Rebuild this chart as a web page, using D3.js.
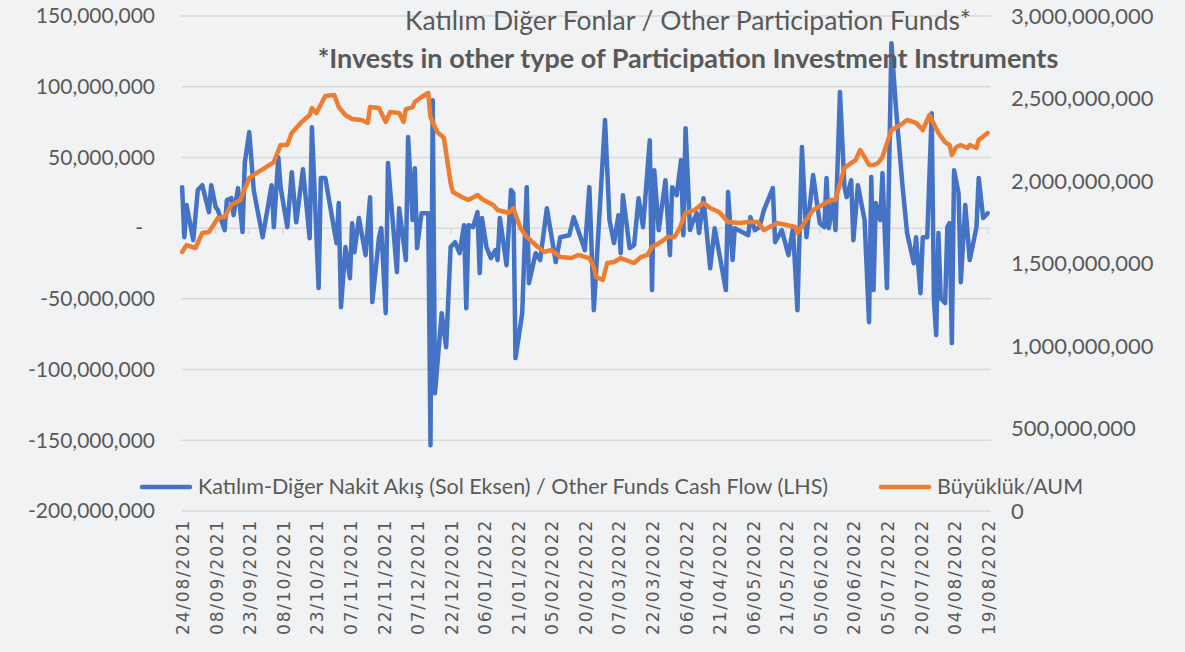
<!DOCTYPE html>
<html>
<head>
<meta charset="utf-8">
<script src="https://cdn.jsdelivr.net/npm/d3@7"></script>
<style>
  body { margin: 0; background: #f1f2f4; }
  svg { display: block; font-family: Lato, "Open Sans", sans-serif; }
</style>
</head>
<body>
<div class="container"></div>
<script>
// cash flow (left axis, TL)
const flowDates = [
  "2021-08-24","2021-08-25","2021-08-26","2021-08-29","2021-08-31","2021-09-02","2021-09-05","2021-09-06",
  "2021-09-08","2021-09-09","2021-09-12","2021-09-13","2021-09-15","2021-09-16","2021-09-18","2021-09-20",
  "2021-09-21","2021-09-23","2021-09-25","2021-09-26","2021-09-29","2021-10-03","2021-10-04","2021-10-06",
  "2021-10-07","2021-10-10","2021-10-12","2021-10-14","2021-10-17","2021-10-20","2021-10-21","2021-10-24",
  "2021-10-25","2021-10-27","2021-11-01","2021-11-02","2021-11-03","2021-11-05","2021-11-07","2021-11-08",
  "2021-11-09","2021-11-11","2021-11-14","2021-11-16","2021-11-17","2021-11-20","2021-11-21","2021-11-23",
  "2021-11-24","2021-11-28","2021-11-29","2021-12-02","2021-12-03","2021-12-05","2021-12-06","2021-12-07",
  "2021-12-09","2021-12-12","2021-12-13","2021-12-14","2021-12-15","2021-12-18","2021-12-20","2021-12-22",
  "2021-12-24","2021-12-26","2021-12-28","2021-12-29","2021-12-30","2022-01-01","2022-01-03","2022-01-04",
  "2022-01-05","2022-01-07","2022-01-09","2022-01-11","2022-01-12","2022-01-13","2022-01-16","2022-01-18",
  "2022-01-19","2022-01-20","2022-01-23","2022-01-25","2022-01-26","2022-01-29","2022-01-31","2022-02-03",
  "2022-02-07","2022-02-09","2022-02-13","2022-02-15","2022-02-20","2022-02-22","2022-02-24","2022-03-01",
  "2022-03-03","2022-03-05","2022-03-07","2022-03-08","2022-03-09","2022-03-12","2022-03-14","2022-03-16",
  "2022-03-18","2022-03-21","2022-03-22","2022-03-23","2022-03-25","2022-03-28","2022-03-30","2022-03-31",
  "2022-04-02","2022-04-04","2022-04-05","2022-04-06","2022-04-08","2022-04-09","2022-04-11","2022-04-12",
  "2022-04-14","2022-04-17","2022-04-19","2022-04-24","2022-04-25","2022-04-27","2022-04-28","2022-05-04",
  "2022-05-05","2022-05-07","2022-05-09","2022-05-11","2022-05-15","2022-05-16","2022-05-19","2022-05-22",
  "2022-05-24","2022-05-26","2022-05-28","2022-05-30","2022-06-02","2022-06-05","2022-06-07","2022-06-08",
  "2022-06-09","2022-06-11","2022-06-12","2022-06-14","2022-06-16","2022-06-17","2022-06-19","2022-06-20",
  "2022-06-22","2022-06-25","2022-06-27","2022-06-28","2022-06-29","2022-06-30","2022-07-02","2022-07-03",
  "2022-07-05","2022-07-07","2022-07-09","2022-07-12","2022-07-14","2022-07-17","2022-07-18","2022-07-20",
  "2022-07-21","2022-07-23","2022-07-25","2022-07-26","2022-07-27","2022-07-28","2022-07-29","2022-07-31",
  "2022-08-01","2022-08-02","2022-08-03","2022-08-04","2022-08-06","2022-08-07","2022-08-09","2022-08-11",
  "2022-08-14","2022-08-15","2022-08-17","2022-08-19"
]
// millions
const flowValues = [
  29.0,-6.4,16.3,-8.5,26.9,30.4,11.3,30.4,
  14.9,12.7,-1.4,19.8,21.2,9.2,28.3,-2.8,
  46.0,67.9,26.9,18.4,-6.4,30.4,0.7,50.2,
  29.0,0.7,39.6,4.2,41.7,-7.1,71.4,-42.4,
  35.4,35.4,-10.6,17.7,-55.9,-13.4,-35.4,3.5,
  -17.0,7.1,-19.1,21.9,-52.3,-6.4,0,-60.1,
  46.0,-31.1,14.1,-22.6,64.4,5.7,42.4,-14.1,
  10.6,10.6,-153.5,90.5,-116.7,-60.1,-84.2,-13.4,
  -9.9,-17.7,2.1,-56.6,2.1,0.7,11.3,-31.8,
  7.1,-13.4,-21.2,-15.6,-22.6,7.1,-26.2,26.9,
  24.8,-91.9,-60.1,29.0,-38.9,-17.7,-22.6,14.1,
  -24.0,-6.4,-5.0,7.8,-15.6,29.0,-58.0,76.4,
  5.7,-10.6,9.2,-17.7,23.3,-14.1,-12.0,21.2,
  0.7,62.2,-43.8,41.0,-1.4,33.9,-19.1,29.0,
  23.3,48.1,-5.0,70.7,-1.4,3.5,10.6,-3.5,
  21.2,-28.3,0,-43.8,25.5,-22.6,0,-5.0,
  7.8,-1.4,0.7,12.7,28.3,-9.9,-1.4,-19.1,
  0,-58.0,57.3,-6.4,37.5,3.5,0.7,35.4,
  0,19.8,-1.4,96.2,29.0,21.9,33.9,-8.5,
  30.4,5.7,-66.5,36.1,-43.8,17.7,5.7,38.9,
  -42.4,130.8,85.6,29.0,-3.5,-24.8,-6.4,-46.0,
  -6.4,-6.4,81.3,-50.9,-75.7,-3.5,-49.5,-53.0,
  0.7,3.5,-81.3,41.0,24.8,-38.2,16.3,-22.6,
  0.7,35.4,7.1,10.6
]

// fund size (right axis, TL)
const aumDates = [
  "2021-08-24","2021-08-26","2021-08-30","2021-09-02","2021-09-05","2021-09-09","2021-09-12","2021-09-15",
  "2021-09-19","2021-09-23","2021-09-27","2021-09-30","2021-10-04","2021-10-07","2021-10-10","2021-10-12",
  "2021-10-16","2021-10-20","2021-10-21","2021-10-23","2021-10-27","2021-10-31","2021-11-02","2021-11-05",
  "2021-11-08","2021-11-12","2021-11-15","2021-11-16","2021-11-20","2021-11-23","2021-11-25","2021-11-29",
  "2021-12-01","2021-12-02","2021-12-05","2021-12-06","2021-12-09","2021-12-12","2021-12-13","2021-12-16",
  "2021-12-19","2021-12-22","2021-12-23","2021-12-27","2021-12-30","2022-01-03","2022-01-05","2022-01-10",
  "2022-01-12","2022-01-17","2022-01-19","2022-01-22","2022-01-25","2022-01-30","2022-02-02","2022-02-05",
  "2022-02-09","2022-02-14","2022-02-17","2022-02-22","2022-02-24","2022-02-25","2022-02-28","2022-03-02",
  "2022-03-05","2022-03-08","2022-03-14","2022-03-17","2022-03-20","2022-03-22","2022-03-26","2022-03-29",
  "2022-04-01","2022-04-03","2022-04-06","2022-04-10","2022-04-14","2022-04-17","2022-04-21","2022-04-25",
  "2022-04-30","2022-05-04","2022-05-08","2022-05-11","2022-05-17","2022-05-21","2022-05-25","2022-05-26",
  "2022-05-29","2022-06-02","2022-06-06","2022-06-10","2022-06-12","2022-06-16","2022-06-19","2022-06-21",
  "2022-06-23","2022-06-25","2022-06-27","2022-06-29","2022-07-01","2022-07-03","2022-07-07","2022-07-11",
  "2022-07-14","2022-07-18","2022-07-21","2022-07-24","2022-07-28","2022-07-31","2022-08-02","2022-08-03",
  "2022-08-05","2022-08-07","2022-08-10","2022-08-11","2022-08-14","2022-08-15","2022-08-19"
]
// billions
const aumValues = [
  1.570,1.612,1.594,1.685,1.691,1.776,1.782,1.855,
  1.885,2.018,2.055,2.079,2.115,2.218,2.218,2.291,
  2.352,2.400,2.442,2.412,2.515,2.521,2.448,2.400,
  2.376,2.370,2.352,2.448,2.442,2.358,2.418,2.412,
  2.358,2.436,2.448,2.479,2.509,2.533,2.388,2.297,
  2.261,1.988,1.933,1.903,1.885,1.915,1.891,1.855,
  1.824,1.806,1.836,1.721,1.661,1.600,1.570,1.582,
  1.539,1.533,1.552,1.533,1.479,1.418,1.400,1.503,
  1.509,1.533,1.503,1.539,1.552,1.600,1.630,1.661,
  1.661,1.703,1.806,1.824,1.867,1.836,1.812,1.752,
  1.745,1.752,1.752,1.703,1.745,1.733,1.721,1.685,
  1.745,1.824,1.855,1.885,1.885,2.079,2.109,2.127,
  2.188,2.145,2.097,2.097,2.109,2.145,2.309,2.339,
  2.370,2.352,2.309,2.400,2.291,2.236,2.218,2.158,
  2.206,2.218,2.200,2.218,2.200,2.248,2.291
]

const leftTicks = [150e6, 100e6, 50e6, 0, -50e6, -100e6, -150e6, -200e6]
const rightTicks = [3e9, 2.5e9, 2e9, 1.5e9, 1e9, 0.5e9, 0]
const xTickLabels = [
  "24/08/2021","08/09/2021","23/09/2021","08/10/2021","23/10/2021","07/11/2021","22/11/2021",
  "07/12/2021","22/12/2021","06/01/2022","21/01/2022","05/02/2022","20/02/2022","07/03/2022",
  "22/03/2022","06/04/2022","21/04/2022","06/05/2022","21/05/2022","05/06/2022","20/06/2022",
  "05/07/2022","20/07/2022","04/08/2022","19/08/2022"
]

const title = "Katılım Diğer Fonlar / Other Participation Funds*"
const subtitle = "*Invests in other type of Participation Investment Instruments"
const seriesNames = ["Katılım-Diğer Nakit Akış (Sol Eksen) / Other Funds Cash Flow (LHS)", "Büyüklük/AUM"]

const w = 1185
const h = 652
const plotLeft = 181
const plotRight = 991
const plotTop = 16
const plotBottom = 511
const blue = "#4472C4"
const orange = "#ED7D31"
const textColor = "#595959"
const gridColor = "#d9d9d9"

const parse = d3.timeParse("%Y-%m-%d")
const parseLabel = d3.timeParse("%d/%m/%Y")

const flow = flowDates.map((d, i) => ({date: parse(d), value: flowValues[i] * 1e6}))
const aum = aumDates.map((d, i) => ({date: parse(d), value: aumValues[i] * 1e9}))

const svg = d3.select(".container")
              .append("svg")
              .attr("width", w)
              .attr("height", h)

const xScale = d3.scaleTime()
                 .domain([new Date(2021, 7, 23, 12), new Date(2022, 7, 20, 12)])
                 .range([plotLeft, plotRight])
const yLeft = d3.scaleLinear().domain([-200e6, 150e6]).range([plotBottom, plotTop])
const yRight = d3.scaleLinear().domain([0, 3e9]).range([plotBottom, plotTop])

// gridlines
svg.append("g")
   .selectAll("line")
   .data(leftTicks)
   .enter()
   .append("line")
   .attr("x1", plotLeft)
   .attr("x2", plotRight)
   .attr("y1", d => yLeft(d))
   .attr("y2", d => yLeft(d))
   .attr("stroke", gridColor)
   .attr("stroke-width", 1.5)

// small category ticks on the zero line
svg.append("g")
   .selectAll("line")
   .data(xTickLabels)
   .enter()
   .append("line")
   .attr("x1", d => xScale(parseLabel(d)))
   .attr("x2", d => xScale(parseLabel(d)))
   .attr("y1", yLeft(0))
   .attr("y2", yLeft(0) + 6)
   .attr("stroke", gridColor)
   .attr("stroke-width", 1.5)

// hyphen instead of unicode minus, like Excel
const fmt = (d) => d3.format(",")(d).replace("\u2212", "-")

svg.append("g")
   .selectAll("text")
   .data(leftTicks)
   .enter()
   .append("text")
   .attr("x", d => d === 0 ? 143 : 155)
   .attr("y", d => yLeft(d))
   .attr("dy", "0.35em")
   .attr("text-anchor", "end")
   .attr("fill", textColor)
   .style("font-size", "21px")
   .text(d => d === 0 ? "-" : fmt(d))

svg.append("g")
   .selectAll("text")
   .data(rightTicks)
   .enter()
   .append("text")
   .attr("x", 1011)
   .attr("y", d => yRight(d))
   .attr("dy", "0.35em")
   .attr("fill", textColor)
   .style("font-size", "22px")
   .text(d => fmt(d))

svg.append("g")
   .selectAll("text")
   .data(xTickLabels)
   .enter()
   .append("text")
   .attr("transform", d => "translate(" + (xScale(parseLabel(d)) + 7) + ",519) rotate(-90)")
   .attr("text-anchor", "end")
   .attr("fill", textColor)
   .style("font-family", "'DejaVu Sans'")
   .style("font-size", "17px")
   .style("letter-spacing", "1.8px")
   .text(d => d)

// lines
const line = (yScale) => d3.line()
                           .x(d => xScale(d.date))
                           .y(d => yScale(d.value))

svg.append("path")
   .datum(flow)
   .attr("d", line(yLeft))
   .attr("fill", "none")
   .attr("stroke", blue)
   .attr("stroke-width", 4.5)
   .attr("stroke-linejoin", "round")
   .attr("stroke-linecap", "round")

svg.append("path")
   .datum(aum)
   .attr("d", line(yRight))
   .attr("fill", "none")
   .attr("stroke", orange)
   .attr("stroke-width", 4.5)
   .attr("stroke-linejoin", "round")
   .attr("stroke-linecap", "round")

// titles
svg.append("text")
   .attr("x", 688)
   .attr("y", 30)
   .attr("text-anchor", "middle")
   .attr("fill", textColor)
   .style("font-size", "26.5px")
   .text(title)

svg.append("text")
   .attr("x", 688)
   .attr("y", 68)
   .attr("text-anchor", "middle")
   .attr("fill", textColor)
   .style("font-size", "27px")
   .style("font-weight", "bold")
   .text(subtitle)

// legend
const legendItems = [
  {name: seriesNames[0], color: blue, x: 142},
  {name: seriesNames[1], color: orange, x: 881}
]
const legendY = 486
const legend = svg.append("g")
legend.selectAll("line")
      .data(legendItems)
      .enter()
      .append("line")
      .attr("x1", d => d.x)
      .attr("x2", d => d.x + 48)
      .attr("y1", legendY + 1)
      .attr("y2", legendY + 1)
      .attr("stroke", d => d.color)
      .attr("stroke-width", 4.5)
      .attr("stroke-linecap", "round")
legend.selectAll("text")
      .data(legendItems)
      .enter()
      .append("text")
      .attr("x", d => d.x + 56)
      .attr("y", legendY)
      .attr("dy", "0.35em")
      .attr("fill", textColor)
      .style("font-size", "21.5px")
      .text(d => d.name)
</script>
</body>
</html>
